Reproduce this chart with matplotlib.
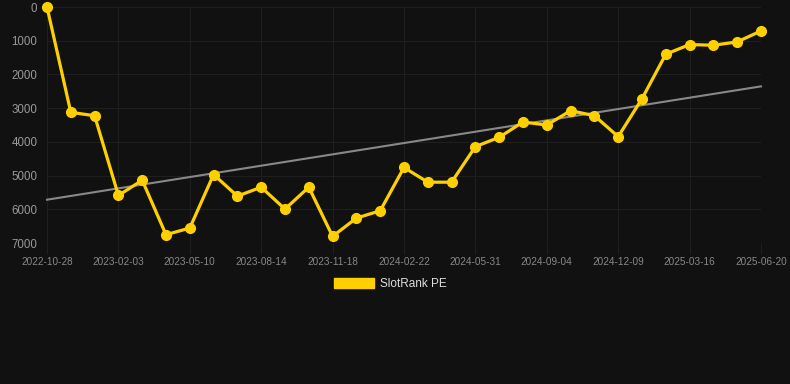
import numpy as np
import matplotlib
matplotlib.use("Agg")
import matplotlib.pyplot as plt
from matplotlib.patches import Patch

plt.rcParams["font.family"] = ["Liberation Sans", "DejaVu Sans"]

series_name = "SlotRank PE"
tick_labels = ["2022-10-28", "2023-02-03", "2023-05-10", "2023-08-14", "2023-11-18",
               "2024-02-22", "2024-05-31", "2024-09-04", "2024-12-09", "2025-03-16",
               "2025-06-20"]
values = [0, 3125, 3225, 5590, 5137, 6754, 6556, 4969, 5610, 5344,
          5994, 5344, 6803, 6261, 6044, 4760, 5196, 5196, 4141, 3865,
          3411, 3500, 3076, 3224, 3845, 2721, 1400, 1114, 1134, 1035, 710]
y_ticks = [0, 1000, 2000, 3000, 4000, 5000, 6000, 7000]

BG = "#111111"
GOLD = "#FFD000"

fig = plt.figure(figsize=(7.9, 3.84), dpi=100, facecolor=BG)
W, H = 790, 384
ax = fig.add_axes([47 / W, 1 - 243 / H, (761 - 47) / W, (243 - 7) / H])
ax.set_facecolor(BG)

x = np.arange(len(values))
coef = np.polyfit(x, values, 1)
trend = np.polyval(coef, x)
ax.plot(x, trend, color="#888888", lw=1.5, zorder=2, clip_on=False)
ax.plot(x, values, color=GOLD, lw=2.3, marker="o", ms=7, mec=GOLD, mfc=GOLD,
        zorder=3, clip_on=False)

ax.set_xlim(0, len(values) - 1)
ax.set_ylim(7000, 0)
ax.set_yticks(y_ticks)
ax.set_yticklabels([str(v) for v in y_ticks])
tick_pos = list(range(0, len(values), 3))
ax.set_xticks(tick_pos)
ax.set_xticklabels(tick_labels)

for s in ax.spines.values():
    s.set_visible(False)
ax.grid(True, color="#1f1f1f", lw=0.8)
ax.set_axisbelow(True)
ax.tick_params(axis="y", colors="#1f1f1f", labelcolor="#999999", labelsize=8.3,
               length=0, pad=7)
ax.tick_params(axis="x", colors="#1f1f1f", labelcolor="#888888", labelsize=7.2,
               length=8, pad=2)

handle = Patch(facecolor=GOLD, edgecolor=GOLD)
leg = fig.legend([handle], [series_name], loc="center",
                 bbox_to_anchor=(0.5 - 5 / W, 1 - 284 / H),
                 frameon=False, handlelength=3.4, handleheight=0.85, handletextpad=0.5,
                 prop={"size": 8.5})
for t in leg.get_texts():
    t.set_color("#dddddd")

fig.savefig("out.png", dpi=100, facecolor=BG)
